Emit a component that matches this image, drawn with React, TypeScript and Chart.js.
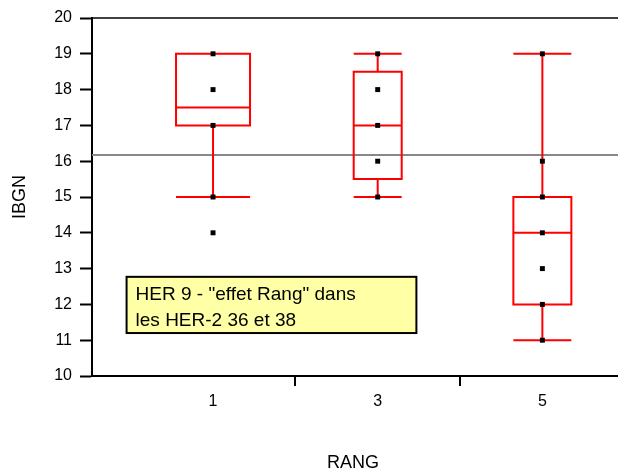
import React, { useEffect, useRef } from 'react';
import { Chart, registerables } from 'chart.js';

Chart.register(...registerables);

// ---- Data ----
const rangs = [1, 3, 5];
const rangLabels = ['1', '3', '5'];
const whiskerLow = [15, 15, 11];
const q1 = [17, 15.5, 12];
const median = [17.5, 17, 14];
const q3 = [19, 18.5, 15];
const whiskerHigh = [19, 19, 19];
const pointsRang1 = [19, 18, 17, 15, 14];
const pointsRang3 = [19, 18, 17, 16, 15];
const pointsRang5 = [19, 16, 15, 14, 13, 12, 11];
const referenceLevel = 16.17;
const yMin = 10;
const yMax = 20;
const annotationLines = ['HER 9 - "effet Rang" dans', 'les HER-2 36 et 38'];

// ---- Styles / layout ----
const FONT = 'Arial, "Liberation Sans", Helvetica, sans-serif';
const BOX_WIDTHS = [74, 48, 58];
const RED = '#ff0000';
const ANNOT = { xMin: -0.05, xMax: 3.47, yMin: 11.2, yMax: 12.77 };

const pointSets = [pointsRang1, pointsRang3, pointsRang5];

const boxPlugin = {
  id: 'boxPlugin',
  beforeDatasetsDraw(chart: any) {
    const { ctx, chartArea, scales } = chart;
    const xs = scales.x;
    const ys = scales.y;
    const right = chart.width;
    ctx.save();
    // top frame line
    ctx.strokeStyle = '#000';
    ctx.lineWidth = 1.5;
    ctx.beginPath();
    ctx.moveTo(chartArea.left, chartArea.top);
    ctx.lineTo(right, chartArea.top);
    ctx.stroke();
    // reference line
    const ry = ys.getPixelForValue(referenceLevel);
    ctx.strokeStyle = '#888888';
    ctx.lineWidth = 2;
    ctx.beginPath();
    ctx.moveTo(chartArea.left, ry);
    ctx.lineTo(right, ry);
    ctx.stroke();
    // boxes
    ctx.strokeStyle = RED;
    ctx.lineWidth = 2;
    ctx.lineCap = 'butt';
    rangs.forEach((r, i) => {
      const cx = xs.getPixelForValue(r);
      const hw = BOX_WIDTHS[i] / 2;
      const yq1 = ys.getPixelForValue(q1[i]);
      const yq3 = ys.getPixelForValue(q3[i]);
      const ymed = ys.getPixelForValue(median[i]);
      const ylo = ys.getPixelForValue(whiskerLow[i]);
      const yhi = ys.getPixelForValue(whiskerHigh[i]);
      ctx.beginPath();
      if (whiskerHigh[i] > q3[i]) {
        ctx.moveTo(cx, yq3);
        ctx.lineTo(cx, yhi);
        ctx.moveTo(cx - hw, yhi);
        ctx.lineTo(cx + hw, yhi);
      }
      if (whiskerLow[i] < q1[i]) {
        ctx.moveTo(cx, yq1);
        ctx.lineTo(cx, ylo);
        ctx.moveTo(cx - hw, ylo);
        ctx.lineTo(cx + hw, ylo);
      }
      ctx.rect(cx - hw, yq3, 2 * hw, yq1 - yq3);
      ctx.moveTo(cx - hw, ymed);
      ctx.lineTo(cx + hw, ymed);
      ctx.stroke();
    });
    // bottom axis line extended to the edge + separator ticks
    ctx.strokeStyle = '#000';
    ctx.lineWidth = 2;
    ctx.beginPath();
    ctx.moveTo(chartArea.left, chartArea.bottom);
    ctx.lineTo(right, chartArea.bottom);
    ctx.stroke();
    for (let i = 0; i < rangs.length - 1; i++) {
      const sx = Math.round(xs.getPixelForValue((rangs[i] + rangs[i + 1]) / 2));
      ctx.beginPath();
      ctx.moveTo(sx, chartArea.bottom);
      ctx.lineTo(sx, chartArea.bottom + 10);
      ctx.stroke();
    }
    ctx.restore();
  },
  afterDatasetsDraw(chart: any) {
    const { ctx, scales } = chart;
    const xs = scales.x;
    const ys = scales.y;
    const l = xs.getPixelForValue(ANNOT.xMin);
    const r = xs.getPixelForValue(ANNOT.xMax);
    const t = ys.getPixelForValue(ANNOT.yMax);
    const b = ys.getPixelForValue(ANNOT.yMin);
    ctx.save();
    ctx.fillStyle = '#ffffa6';
    ctx.fillRect(l, t, r - l, b - t);
    ctx.strokeStyle = '#000';
    ctx.lineWidth = 2;
    ctx.strokeRect(l, t, r - l, b - t);
    ctx.fillStyle = '#000';
    ctx.font = `19px ${FONT}`;
    ctx.textBaseline = 'alphabetic';
    ctx.textAlign = 'left';
    annotationLines.forEach((line, k) => {
      ctx.fillText(line, l + 9, t + 23 + k * 26);
    });
    ctx.restore();
  },
};

export default function App() {
  const canvasRef = useRef<HTMLCanvasElement | null>(null);

  useEffect(() => {
    document.body.style.margin = '0';
    const canvas = canvasRef.current;
    if (!canvas) return;
    const scatterData: { x: number; y: number }[] = [];
    pointSets.forEach((set, i) => {
      set.forEach((v) => scatterData.push({ x: rangs[i], y: v }));
    });
    const yTickValues: number[] = [];
    for (let v = yMin; v <= yMax; v++) yTickValues.push(v);

    const chart = new Chart(canvas, {
      type: 'scatter',
      data: {
        datasets: [
          {
            data: scatterData,
            pointStyle: 'rect',
            pointRadius: 3.5,
            pointBackgroundColor: '#000',
            pointBorderWidth: 0,
            borderWidth: 0,
          } as any,
        ],
      },
      options: {
        animation: false,
        responsive: false,
        devicePixelRatio: 1,
        layout: { padding: { top: 18, right: -5, left: 0, bottom: 0 } },
        plugins: {
          legend: { display: false },
          tooltip: { enabled: false },
        },
        scales: {
          x: {
            type: 'linear',
            min: -0.47,
            max: 5.87,
            afterBuildTicks: (axis: any) => {
              axis.ticks = rangs.map((v) => ({ value: v }));
            },
            afterFit: (scale: any) => {
              scale.height = 92;
            },
            ticks: {
              callback: (value: any) => {
                const idx = rangs.indexOf(Number(value));
                return idx >= 0 ? rangLabels[idx] : '';
              },
              color: '#000',
              font: { family: FONT, size: 16 },
              padding: 16,
              maxRotation: 0,
              autoSkip: false,
            },
            grid: { display: true, drawOnChartArea: false, drawTicks: false },
            border: { display: true, color: '#000', width: 2 },
            title: {
              display: true,
              text: 'RANG',
              color: '#000',
              font: { family: FONT, size: 18, lineHeight: 0.7 },
              padding: { top: 0, bottom: -1 },
            },
          },
          y: {
            type: 'linear',
            min: yMin,
            max: yMax,
            afterBuildTicks: (axis: any) => {
              axis.ticks = yTickValues.map((v) => ({ value: v }));
            },
            afterFit: (scale: any) => {
              scale.width = 92;
            },
            ticks: {
              color: '#000',
              font: { family: FONT, size: 16 },
              padding: 8,
            },
            grid: {
              display: true,
              drawOnChartArea: false,
              drawTicks: true,
              tickLength: 12,
              tickColor: '#000',
              tickWidth: 2,
            },
            border: { display: true, color: '#000', width: 2 },
            title: {
              display: true,
              text: 'IBGN',
              color: '#000',
              font: { family: FONT, size: 18 },
              padding: { top: 9, bottom: 0 },
            },
          },
        },
      },
      plugins: [boxPlugin],
    });
    return () => chart.destroy();
  }, []);

  return (
    <div style={{ width: 618, height: 468 }}>
      <canvas ref={canvasRef} width={618} height={468} style={{ display: 'block', width: 618, height: 468 }} />
    </div>
  );
}
